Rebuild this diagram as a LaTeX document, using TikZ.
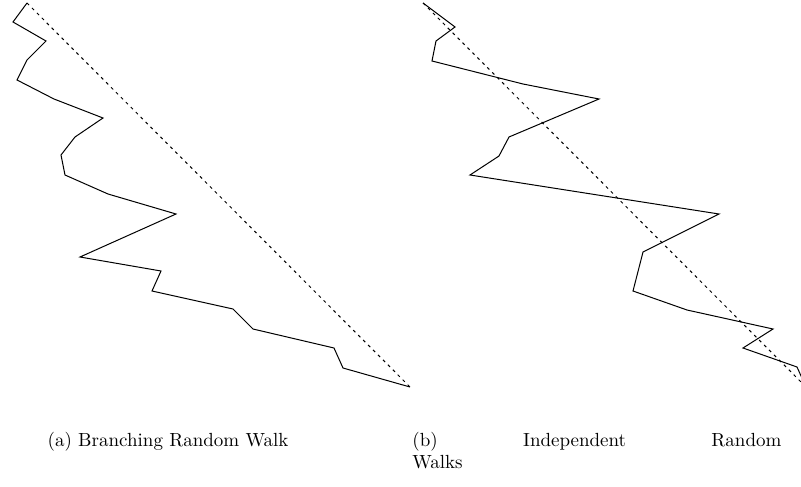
\documentclass[tikz,border=0pt]{standalone}
\begin{document}
\begin{tikzpicture}[x=0.5pt,y=-0.5pt,
  walk/.style={line width=0.5pt,line join=miter},
  trend/.style={line width=0.5pt,dash pattern=on 1.5pt off 2pt},
  captxt/.style={inner sep=0pt,font=\fontsize{9.5}{11}\selectfont}]
\useasboundingbox (0,0) rectangle (801,486);
\begin{scope}
\clip (0,0) rectangle (801,486);
% (a) branching random walk
\coordinate (a0) at (27,3);
\coordinate (aN) at (410,387);
\draw[walk] (a0) -- (13,22) -- (46,41) -- (27,60) -- (17,80) -- (54,99)
  -- (103,118) -- (75,137) -- (61,155) -- (65,175) -- (108,194)
  -- (176,214) -- (80,257) -- (161,271) -- (152,291) -- (233,309)
  -- (253,329) -- (334,348) -- (343,368) -- (aN);
\draw[trend] (a0) -- (aN);
% (b) independent random walks
\coordinate (b0) at (423,3);
\coordinate (bN) at (806,387);
\draw[walk] (b0) -- (455,27) -- (436,41) -- (432,61) -- (523,84)
  -- (599,99) -- (509,137) -- (499,156) -- (470,175) -- (719,214)
  -- (643,252) -- (633,291) -- (687,310) -- (773,329) -- (743,348)
  -- (797,367) -- (bN);
\draw[trend] (b0) -- (bN);
\end{scope}
% captions
\node[captxt,anchor=base] (capa) at (168,446) {(a) Branching Random Walk};
\node[captxt,anchor=base west] (capb1) at (412,446)
  {\makebox[184.5pt][s]{(b)\hfill Independent\hfill Random}};
\node[captxt,anchor=base west] (capb2) at (412,468) {Walks};
\end{tikzpicture}
\end{document}
